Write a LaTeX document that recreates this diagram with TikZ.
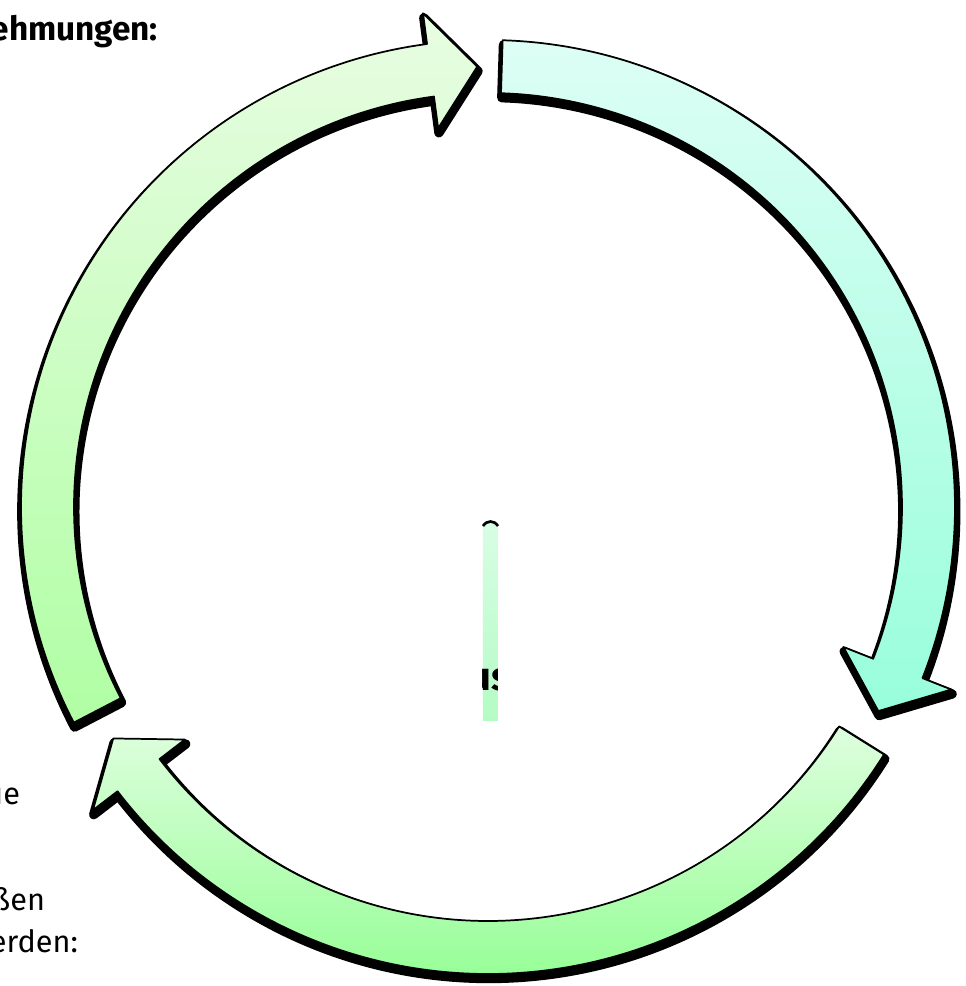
\documentclass[tikz,border=0pt]{standalone}
\usepackage{fontspec}
\setmainfont{Fira Sans}
\definecolor{aOneTop}{HTML}{E8FDE2}
\definecolor{aOneBot}{HTML}{B0FEA4}
\definecolor{aTwoTop}{HTML}{DDFEF5}
\definecolor{aTwoBot}{HTML}{98FEDB}
\definecolor{aThreeTop}{HTML}{DEFEDE}
\definecolor{aThreeBot}{HTML}{96FE96}
\definecolor{barTop}{HTML}{D8FDE4}
\definecolor{barBot}{HTML}{B4FCC4}
\def\Ro{467}
\def\Ri{414}
\def\Rm{440.5}
\def\Hout{498}
\def\Hin{382}
\newcommand{\cycarrowpath}[3]{(#1:\Ro) arc[start angle=#1, end angle=#2, radius=\Ro] -- (#2:\Hout) -- (#3:\Rm) -- (#2:\Hin) -- (#2:\Ri) arc[start angle=#2, end angle=#1, radius=\Ri] -- cycle}
\tikzset{
  arrowshadow/.style={fill=black, draw=black, line width=7pt, line join=round, shift={(0.8,-4.5)}},
  arrowbody/.style={draw=black, line width=1.3pt, line join=round},
  lbl/.style={inner sep=0pt, outer sep=0pt, font=\fontsize{23}{27}\selectfont},
  lblbold/.style={inner sep=0pt, outer sep=0pt, font=\fontsize{25}{29}\selectfont\bfseries}
}
\begin{document}
\begin{tikzpicture}[x=0.75pt, y=0.75pt]
\useasboundingbox (-488,-479) rectangle (477,507);
\fill[white] (-488,-479) rectangle (477,507);
% texts at the edges
\node[lblbold, anchor=base east] (t1) at (-330,466) {ehmungen:};
\node[lblbold, anchor=base] (t0) at (-102,516) {g};
\node[lbl, anchor=base east] (t2) at (-468,-297) {ue};
\node[lbl, anchor=base east] (t3) at (-443,-403) {ßen};
\node[lbl, anchor=base east] (t4) at (-410,-445) {erden:};
% shadows
\path[arrowshadow] \cycarrowpath{207.5}{97.5}{91.4};
\path[arrowshadow] \cycarrowpath{88.2}{-21.5}{-27.6};
\path[arrowshadow] \cycarrowpath{328}{217.5}{211.7};
% arrows
\path[arrowbody, top color=aOneTop, bottom color=aOneBot] \cycarrowpath{207.5}{97.5}{91.4};
\path[arrowbody, top color=aTwoTop, bottom color=aTwoBot] \cycarrowpath{88.2}{-21.5}{-27.6};
\path[arrowbody, top color=aThreeTop, bottom color=aThreeBot] \cycarrowpath{328}{217.5}{211.7};
% centre bar
\shade[top color=barTop, bottom color=barBot] (-5,-16) rectangle (10,-213);
\draw[line width=2pt] (-5,-19) .. controls (-1,-13) and (6,-13) .. (10,-19);
\begin{scope}
\clip (-5,-16) rectangle (10,-213);
\node[inner sep=0pt, anchor=base west, font=\fontsize{30}{34}\selectfont\bfseries] (us) at (-20,-183) {us};
\end{scope}
\end{tikzpicture}
\end{document}
